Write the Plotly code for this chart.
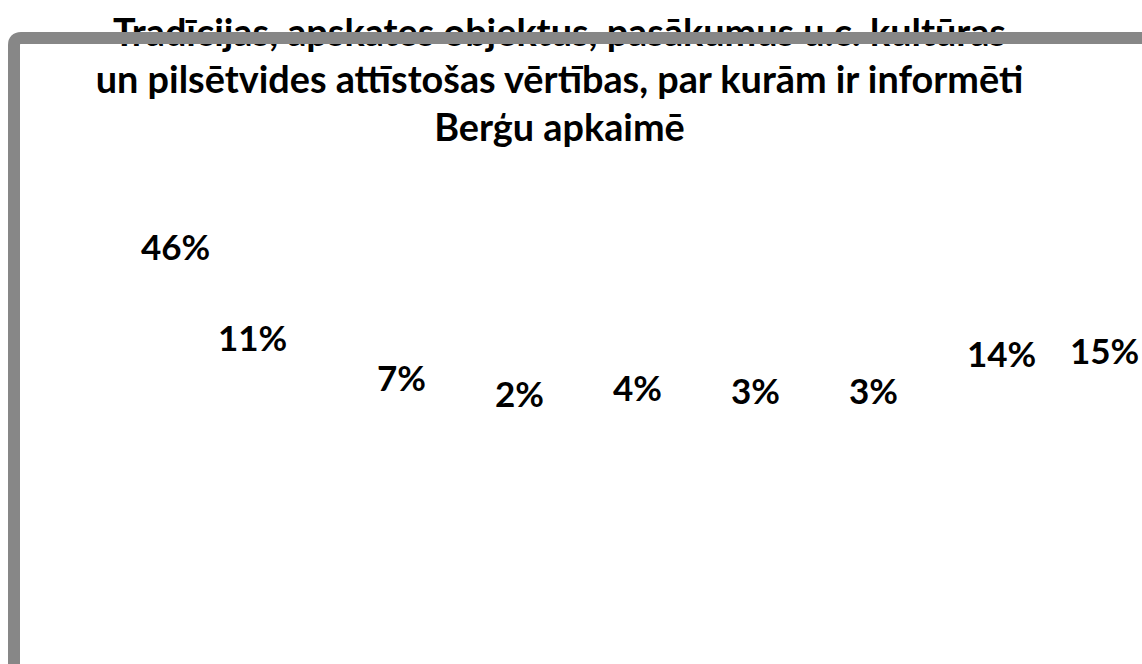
import plotly.graph_objects as go

# ---- data ----
categories = ["1", "2", "3", "4", "5", "6", "7", "8", "9"]
values = [46, 11, 7, 2, 4, 3, 3, 14, 15]
value_labels = [f"{v}%" for v in values]
title_lines = [
    "Tradīcijas, apskates objektus, pasākumus u.c. kultūras",
    "un pilsētvides attīstošas vērtības, par kurām ir informēti",
    "Berģu apkaimē",
]

# manual label nudges (pixels), as in the original chart
label_dx = [10, -31, 0, 0, 0, 0, 0, 10, -5]
label_dy = [0, 26, 0, 0, 0, 0, 0, 0, 0]

W, H = 1142, 664
FONT = "Lato"
TITLE_SIZE = 37.8
LABEL_SIZE = 35
BORDER = "#878787"

fig = go.Figure()

# invisible bars (the original bars are not visible)
fig.add_trace(go.Bar(
    x=categories, y=values,
    marker=dict(color="rgba(0,0,0,0)", line=dict(width=0)),
    hoverinfo="skip", showlegend=False,
))

# title drawn as text on an overlay screen-space axis, so the frame can cover it
title_baselines = [45, 92, 140]
fig.add_trace(go.Scatter(
    x=[559.5] * len(title_lines),
    y=[b - 8 for b in title_baselines],
    mode="text", text=title_lines, textposition="middle center",
    textfont=dict(family=FONT, size=TITLE_SIZE, color="black", weight=700),
    xaxis="x2", yaxis="y2", hoverinfo="skip", showlegend=False,
))

annotations = []
for i, (v, t, dx, dy) in enumerate(zip(values, value_labels, label_dx, label_dy)):
    annotations.append(dict(
        x=i, y=v, xref="x", yref="y", text=t, showarrow=False,
        xanchor="center", yanchor="middle", xshift=dx, yshift=dy + 1,
        font=dict(family=FONT, size=LABEL_SIZE, color="black", weight=700),
    ))

# frame with rounded top-left corner, extending past the right/bottom edges
r = 7
cx, cy = 14, 38
frame_path = (f"M {cx},{H + 30} L {cx},{cy + r} Q {cx},{cy} {cx + r},{cy} "
              f"L {W + 30},{cy}")

fig.update_layout(
    width=W, height=H,
    margin=dict(l=0, r=0, t=0, b=0),
    paper_bgcolor="white", plot_bgcolor="white",
    showlegend=False,
    xaxis=dict(type="category", range=[-1.4025, 8.2754], visible=False,
               showgrid=False, zeroline=False, fixedrange=True),
    yaxis=dict(range=[-78.51, 119.70], visible=False, showgrid=False,
               zeroline=False, fixedrange=True),
    xaxis2=dict(overlaying="x", range=[0, W], visible=False,
                showgrid=False, zeroline=False, fixedrange=True),
    yaxis2=dict(overlaying="y", range=[H, 0], visible=False,
                showgrid=False, zeroline=False, fixedrange=True),
    annotations=annotations,
    shapes=[dict(type="path", path=frame_path, xref="x2", yref="y2",
                 layer="above", line=dict(color=BORDER, width=12),
                 fillcolor="rgba(0,0,0,0)")],
)

fig.write_html(
    "out.html",
    config={"displayModeBar": False},
    post_script="document.body.style.margin='0';"
                "document.body.style.overflow='hidden';",
)
